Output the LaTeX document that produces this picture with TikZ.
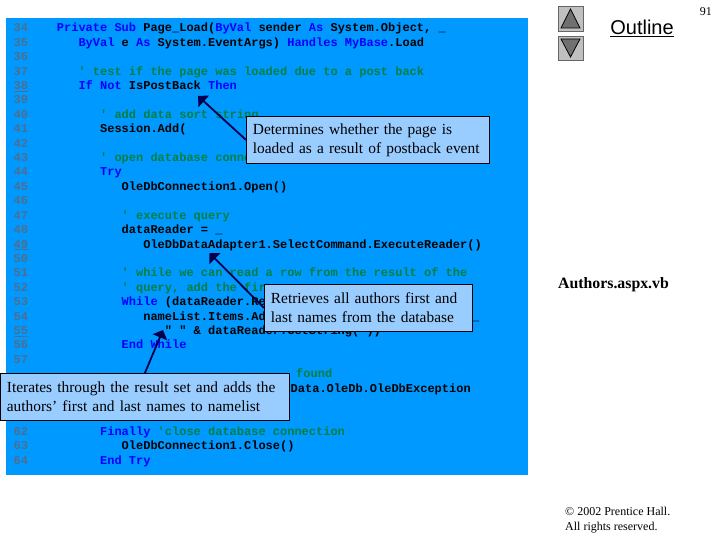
\documentclass[tikz,border=0pt]{standalone}
\usepackage{fontspec}
\setmainfont{Liberation Serif}
\setmonofont{Liberation Mono}
\newfontfamily\outlinefont{Liberation Sans}
\usetikzlibrary{arrows}

\definecolor{panelblue}{RGB}{0,153,255}
\definecolor{boxblue}{RGB}{153,204,255}
\definecolor{numgray}{RGB}{80,110,140}
\definecolor{kwblue}{RGB}{0,0,255}
\definecolor{cmgreen}{RGB}{0,128,64}
\definecolor{btngray}{RGB}{192,192,192}
\definecolor{tipgray}{RGB}{112,112,112}

\newcommand{\lineno}[1]{\textcolor{numgray}{#1}}
\newcommand{\kw}[1]{\textcolor{kwblue}{#1}}
\newcommand{\cm}[1]{\textcolor{cmgreen}{#1}}

\tikzset{
  codeline/.style={anchor=base west, inner sep=0pt, font=\fontsize{12}{14}\selectfont\ttfamily\bfseries},
  callout/.style={anchor=north west, draw=black, fill=boxblue, align=left, inner xsep=6.5pt, inner ysep=4pt, font=\fontsize{15.4}{19}\selectfont, line width=0.8pt},
  pointer/.style={line width=1.8pt, color=black!70!blue, -triangle 90},
  button/.style={draw=black!60, fill=btngray, line width=0.8pt},
  buttontip/.style={draw=black, fill=tipgray, line width=0.8pt}
}

\begin{document}
\begin{tikzpicture}[x=1pt,y=-1pt]
\useasboundingbox (0,0) rectangle (720,540);

\fill[panelblue] (6,18) rectangle (528,475);

\node[codeline] (line34) at (13.5,32) {\lineno{34}~~~~\kw{Private Sub} Page\_Load(\kw{ByVal} sender \kw{As} System.Object, \_};
\node[codeline] (line35) at (13.5,46.4) {\lineno{35}~~~~~~~\kw{ByVal} e \kw{As} System.EventArgs) \kw{Handles} \kw{MyBase}.Load};
\node[codeline] (line36) at (13.5,60.8) {\lineno{36}};
\node[codeline] (line37) at (13.5,75.2) {\lineno{37}~~~~~~~\cm{' test if the page was loaded due to a post back}};
\node[codeline] (line38) at (13.5,89.6) {\lineno{\underline{38}}~~~~~~~\kw{If Not} IsPostBack \kw{Then}};
\node[codeline] (line39) at (13.5,104) {\lineno{39}};
\node[codeline] (line40) at (13.5,118.4) {\lineno{40}~~~~~~~~~~\cm{' add data sort string}};
\node[codeline] (line41) at (13.5,132.8) {\lineno{41}~~~~~~~~~~Session.Add(};
\node[codeline] (line42) at (13.5,147.2) {\lineno{42}};
\node[codeline] (line43) at (13.5,161.6) {\lineno{43}~~~~~~~~~~\cm{' open database connection}};
\node[codeline] (line44) at (13.5,176) {\lineno{44}~~~~~~~~~~\kw{Try}};
\node[codeline] (line45) at (13.5,190.4) {\lineno{45}~~~~~~~~~~~~~OleDbConnection1.Open()};
\node[codeline] (line46) at (13.5,204.8) {\lineno{46}};
\node[codeline] (line47) at (13.5,219.2) {\lineno{47}~~~~~~~~~~~~~\cm{' execute query}};
\node[codeline] (line48) at (13.5,233.6) {\lineno{48}~~~~~~~~~~~~~dataReader = \_};
\node[codeline] (line49) at (13.5,248) {\lineno{\underline{49}}~~~~~~~~~~~~~~~~OleDbDataAdapter1.SelectCommand.ExecuteReader()};
\node[codeline] (line50) at (13.5,262.4) {\lineno{50}};
\node[codeline] (line51) at (13.5,276.8) {\lineno{51}~~~~~~~~~~~~~\cm{' while we can read a row from the result of the}};
\node[codeline] (line52) at (13.5,291.2) {\lineno{52}~~~~~~~~~~~~~\cm{' query, add the fir}};
\node[codeline] (line53) at (13.5,305.6) {\lineno{53}~~~~~~~~~~~~~\kw{While} (dataReader.Re};
\node[codeline] (line54) at (13.5,320) {\lineno{54}~~~~~~~~~~~~~~~~nameList.Items.Ad};
\node[codeline] (line54end) at (472,320) {\_};
\node[codeline] (line55) at (13.5,334.4) {\lineno{\underline{55}}~~~~~~~~~~~~~~~~~~~" " \& dataReader.GetString( ))};
\node[codeline] (line56) at (13.5,348.8) {\lineno{56}~~~~~~~~~~~~~\kw{End While}};
\node[codeline] (line57) at (13.5,363.2) {\lineno{57}};
\node[codeline] (line58) at (296,377.6) {\cm{found}};
\node[codeline] (line59) at (290.5,392) {Data.OleDb.OleDbException};
\node[codeline] (line62) at (13.5,435.2) {\lineno{62}~~~~~~~~~~\kw{Finally} \cm{'close database connection}};
\node[codeline] (line63) at (13.5,449.6) {\lineno{63}~~~~~~~~~~~~~OleDbConnection1.Close()};
\node[codeline] (line64) at (13.5,464) {\lineno{64}~~~~~~~~~~\kw{End Try}};

\coordinate (postbacktip) at (198,96);
\coordinate (readertip) at (209.5,253);
\coordinate (looptip) at (163,330);

\node[callout, minimum width=243pt, minimum height=47pt, text width=230pt] (postbackbox) at (246,116) {Determines whether the page is\\loaded as a result of postback event};
\node[callout, minimum width=208pt, minimum height=47pt, text width=195pt] (readerbox) at (264,284) {Retrieves all authors first and\\last names from the database};
\node[callout, minimum width=289pt, minimum height=47pt, text width=276pt] (loopbox) at (0,373) {Iterates through the result set and adds the\\authors’ first and last names to namelist};

\draw (postbackbox.west) edge[pointer] (postbacktip);
\draw (readerbox.west) edge[pointer] (readertip);
\draw (loopbox.north) edge[pointer] (looptip);

\draw[button] (558,6) rectangle (583,31);
\draw[buttontip] (570.5,9) -- (580,28) -- (561,28) -- cycle;
\draw[button] (558,36) rectangle (583,60.5);
\draw[buttontip] (570.5,57) -- (580,39) -- (561,39) -- cycle;

\node[anchor=base, inner sep=0pt, font=\fontsize{20}{22}\selectfont\outlinefont] (outline) at (642,35) {\underline{Outline}};
\node[anchor=base east, inner sep=0pt, font=\fontsize{12}{14}\selectfont] (pagenum) at (712,16) {91};
\node[anchor=base west, inner sep=0pt, font=\fontsize{15.8}{18}\selectfont\bfseries] (filename) at (558,288) {Authors.aspx.vb};
\node[anchor=base west, inner sep=0pt, font=\fontsize{12}{14}\selectfont] (copyline) at (565,515) {© 2002 Prentice Hall.};
\node[anchor=base west, inner sep=0pt, font=\fontsize{12}{14}\selectfont] (rightsline) at (565,530) {All rights reserved.};

\end{tikzpicture}
\end{document}
